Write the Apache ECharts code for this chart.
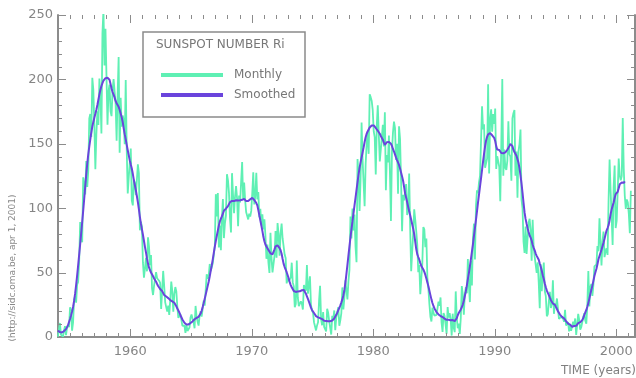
<!DOCTYPE html>
<html>
<head>
<meta charset="utf-8">
<script src="https://cdn.jsdelivr.net/npm/echarts@6/dist/echarts.min.js"></script>
<style>
html,body{margin:0;padding:0;background:#fff;}
#chart{width:636px;height:378px;}
</style>
</head>
<body>
<div id="chart"></div>
<script>
// Monthly sunspot numbers, starting Jan 1954 (one row per year)
const startYear = 1954;
const monthly = [
0.2,0.5,10.9,1.8,0.8,0.2,4.8,8.4,1.5,7.0,9.2,7.6,
23.1,20.8,4.9,11.3,28.9,31.7,26.7,40.7,42.7,58.5,89.2,76.9,
73.6,124.0,118.4,110.7,136.6,116.6,129.1,169.6,173.2,155.3,201.3,192.1,
165.0,130.2,157.4,175.2,164.6,200.7,187.2,158.0,235.8,253.8,210.9,239.4,
202.5,164.9,190.7,196.0,175.3,171.5,191.4,200.2,201.2,181.5,152.3,187.6,
217.4,143.1,185.7,163.3,172.0,168.7,149.6,199.6,145.2,111.4,124.0,125.0,
146.3,106.0,102.2,122.0,119.6,110.2,121.7,134.1,127.2,82.8,89.6,85.6,
57.9,46.1,53.0,61.4,51.0,77.4,70.2,55.8,63.6,37.7,32.6,39.9,
38.7,50.3,45.6,46.4,43.7,42.0,21.8,21.8,51.3,39.5,26.9,23.2,
19.8,24.4,17.1,29.3,43.0,35.9,19.6,33.2,38.8,35.3,23.4,14.9,
15.3,17.7,16.5,8.6,9.5,9.1,3.1,9.3,4.7,6.1,7.4,15.1,
17.5,14.2,11.7,6.8,24.1,15.9,11.9,8.9,16.8,20.1,15.8,17.0,
28.2,24.4,25.3,48.7,45.3,47.7,56.7,51.2,50.2,57.2,57.2,70.4,
110.9,93.6,111.8,69.5,86.5,67.3,91.5,107.2,76.8,88.2,94.3,126.4,
121.8,111.9,92.2,81.2,127.2,110.3,96.1,109.3,117.2,107.7,86.0,109.8,
104.4,120.5,135.8,106.8,120.0,106.0,96.8,98.0,91.3,95.7,93.5,97.9,
111.5,127.8,102.9,109.5,127.5,106.8,112.5,93.0,99.5,86.6,95.2,83.5,
91.3,79.0,60.7,71.8,57.5,49.8,81.0,61.4,50.2,51.7,63.2,82.2,
61.5,88.4,80.1,63.2,80.5,88.0,76.5,76.8,64.0,61.3,41.6,45.3,
43.4,42.9,46.0,57.7,42.4,39.5,23.1,25.6,59.3,30.7,23.9,23.3,
27.6,26.0,21.3,40.3,39.5,36.0,55.8,33.6,40.2,47.1,25.0,20.5,
18.9,11.5,11.5,5.1,9.0,11.4,28.2,39.7,13.9,9.1,19.4,7.8,
8.1,4.3,21.9,18.8,12.4,12.2,1.9,16.4,13.5,20.6,5.2,15.3,
16.4,23.1,8.7,12.9,18.6,38.5,21.4,30.1,44.0,43.8,29.1,43.2,
51.9,93.6,76.5,99.7,82.7,95.1,70.4,58.1,138.2,125.1,97.9,122.7,
166.6,137.5,138.0,101.5,134.4,149.5,159.4,142.2,188.4,186.2,183.3,176.3,
159.6,155.0,126.2,164.1,179.9,157.3,136.3,135.4,155.0,164.7,147.9,174.4,
114.0,141.3,135.5,156.4,127.5,90.0,143.8,158.7,167.3,162.4,137.5,150.1,
111.2,163.6,153.8,122.0,82.2,110.4,106.1,107.6,118.8,94.7,98.1,127.0,
84.3,51.0,66.5,80.7,99.2,91.1,82.2,71.8,50.3,55.8,33.3,33.4,
57.0,85.4,83.5,69.7,76.4,46.1,37.4,25.5,15.7,12.0,22.8,18.7,
16.5,15.9,17.2,16.2,27.5,24.2,30.7,11.1,3.9,18.6,16.2,17.3,
2.5,23.2,15.1,18.5,13.7,1.1,18.1,7.4,3.8,35.4,15.2,6.8,
10.4,2.4,14.7,39.6,33.0,17.4,33.0,38.7,33.9,60.6,39.9,27.1,
59.0,40.0,76.2,88.0,60.1,101.8,113.8,111.6,120.1,125.1,125.1,179.2,
161.3,165.1,131.4,130.6,138.5,196.2,126.9,168.9,176.7,159.4,173.0,165.5,
177.3,130.5,140.3,140.3,132.2,105.4,149.4,200.3,125.2,145.5,131.4,129.7,
136.9,167.5,141.9,140.0,121.3,169.7,173.7,176.3,125.3,144.1,108.2,144.4,
150.0,161.1,106.7,99.8,73.8,65.2,85.7,64.5,63.9,88.7,91.8,82.6,
59.3,91.0,69.8,62.2,61.3,49.8,57.9,42.2,22.4,56.4,35.6,48.9,
57.8,35.5,31.7,16.1,17.8,28.0,35.1,22.5,25.7,44.0,18.0,26.2,
24.2,29.9,31.1,14.0,14.5,15.6,14.5,14.3,11.8,21.1,9.0,10.0,
11.5,4.4,9.2,4.8,5.5,11.8,8.2,14.4,1.6,0.9,17.9,13.3,
5.7,7.6,8.7,15.5,18.5,12.7,10.4,24.4,51.3,23.8,39.0,41.2,
31.9,40.3,54.8,53.4,56.3,70.7,66.6,92.2,92.9,55.5,74.0,81.9,
62.0,66.3,68.8,63.7,106.4,137.7,113.5,93.7,71.5,116.7,133.2,84.6,
90.1,112.9,138.5,125.5,121.6,124.9,170.1,130.5,109.7,99.4,106.8,104.4,
95.6,80.6,113.5
];
// 13-month smoothed sunspot numbers, starting Jan 1954
const smoothed = [
4.9,4.3,3.8,3.4,3.5,4.0,4.6,5.2,6.1,7.4,9.2,11.6,
14.0,16.7,19.8,23.5,28.0,33.6,40.2,47.6,55.6,63.7,72.0,80.6,
89.3,98.1,107.4,117.0,126.2,134.6,141.8,147.8,153.5,158.8,163.4,167.0,
170.3,173.3,176.5,180.1,184.2,188.4,192.0,194.9,197.1,199.0,200.3,201.0,
201.2,201.3,201.2,199.8,196.5,192.9,190.2,188.2,186.0,183.3,181.5,180.4,
178.7,176.4,173.5,170.6,167.0,162.0,157.5,153.5,149.2,145.0,141.0,137.1,
133.9,130.8,126.7,122.0,118.0,114.0,109.5,104.7,99.3,93.3,88.0,83.7,
79.4,74.7,70.0,65.7,61.0,57.0,54.0,51.8,50.1,48.8,47.2,45.5,
44.2,42.9,41.2,39.6,38.4,37.3,36.3,35.6,34.2,32.6,31.6,31.4,
31.0,30.2,29.5,28.7,28.0,27.7,27.4,26.6,25.3,23.8,22.1,20.6,
19.0,17.1,15.3,13.6,12.2,11.1,10.2,9.7,9.6,9.8,10.2,10.8,
11.5,12.1,12.9,13.8,14.4,14.8,15.1,15.7,16.7,18.2,20.4,23.2,
26.3,29.6,32.9,36.3,39.7,43.1,47.2,51.5,55.7,60.3,65.3,70.2,
74.5,78.6,82.7,86.6,89.7,91.8,93.6,95.8,98.0,99.1,99.7,100.5,
101.6,103.1,104.7,105.5,105.6,105.3,105.5,106.0,106.2,106.1,105.9,105.9,
106.1,106.3,106.5,107.2,107.3,106.4,105.5,105.2,105.5,106.0,106.9,107.6,
108.0,107.5,106.4,105.0,104.0,102.2,98.6,94.4,90.4,86.5,82.4,77.8,
74.3,71.8,70.2,69.3,67.6,66.3,65.0,64.1,64.2,65.7,68.1,70.3,
71.3,71.2,70.2,69.0,67.4,64.6,60.6,56.8,54.3,52.4,50.3,47.9,
45.3,42.6,40.3,38.6,37.3,35.7,34.8,35.0,35.4,35.4,35.2,35.5,
35.8,36.3,36.8,36.5,35.3,33.6,31.6,29.6,27.4,25.1,22.8,21.0,
19.6,18.6,17.5,16.2,15.5,15.3,15.1,14.6,14.2,13.9,13.2,12.6,
12.4,12.5,12.4,12.2,12.3,12.2,12.4,12.8,13.4,14.4,15.7,17.2,
18.9,20.8,22.7,24.6,26.8,29.2,32.3,36.5,42.1,48.9,55.9,63.1,
70.3,77.2,83.6,89.7,95.9,102.2,108.1,114.2,120.3,126.1,131.3,135.6,
139.4,143.2,147.2,151.4,155.1,157.8,159.6,161.1,162.6,163.8,164.2,164.5,
164.3,163.5,162.3,161.2,160.1,159.2,157.8,156.1,155.0,153.2,150.9,149.2,
149.6,151.3,152.1,151.5,150.9,150.0,148.4,146.0,144.0,141.8,139.5,137.4,
135.5,133.6,130.8,127.8,124.7,121.3,116.5,111.5,108.2,104.8,101.2,97.8,
94.6,91.1,87.6,84.0,79.8,74.1,68.3,64.3,62.1,60.0,57.4,55.2,
53.7,52.4,50.6,48.2,45.4,42.4,39.4,35.9,32.5,29.2,26.4,24.1,
22.2,20.7,19.4,18.3,17.5,17.0,16.3,15.8,15.5,15.0,14.3,13.6,
13.3,13.4,13.4,13.1,13.0,13.2,13.2,12.9,12.3,12.9,14.6,16.9,
18.6,19.9,21.4,23.1,25.2,28.2,31.8,35.6,40.1,44.9,49.6,54.8,
60.5,66.2,72.0,78.5,84.7,90.9,97.6,104.3,110.6,116.9,123.2,129.8,
136.2,142.4,148.1,152.6,155.4,157.4,158.5,158.3,157.5,156.6,155.6,154.6,
152.2,148.2,145.5,144.9,145.2,144.0,142.8,142.6,142.7,142.9,143.3,144.1,
145.4,146.6,148.2,149.9,150.2,148.2,145.4,143.6,142.1,140.7,138.1,135.3,
131.1,125.4,119.0,112.0,104.2,96.7,91.7,88.0,84.4,81.5,78.8,77.2,
74.9,71.6,69.3,67.3,64.8,63.0,61.8,60.0,57.1,54.6,51.5,48.0,
45.0,41.5,38.6,36.0,34.2,32.5,30.5,28.6,27.3,26.0,25.4,24.9,
23.5,21.7,20.0,18.6,17.4,16.3,15.6,15.0,14.5,13.6,12.4,11.0,
10.4,10.1,9.6,8.6,8.0,8.2,8.5,8.3,8.7,9.8,10.8,11.2,
11.5,12.1,13.1,14.8,17.0,19.1,21.0,23.5,26.3,29.8,33.4,36.6,
39.9,43.6,47.3,50.3,53.0,56.5,60.4,62.9,65.3,67.7,70.4,73.1,
76.3,79.6,82.6,84.6,86.8,90.7,95.4,99.0,101.8,104.4,107.9,110.9,
111.7,112.7,115.5,118.6,119.6,119.9,119.6,119.7,120.8
];
// Axis tick values
const decadeTicks = [1960, 1970, 1980, 1990, 2000];
const yearTicks = [1955,1956,1957,1958,1959,1961,1962,1963,1964,1965,1966,1967,1968,1969,
  1971,1972,1973,1974,1975,1976,1977,1978,1979,1981,1982,1983,1984,1985,1986,1987,1988,1989,
  1991,1992,1993,1994,1995,1996,1997,1998,1999,2001];
const yMajorTicks = [0, 50, 100, 150, 200, 250];
const yMinorTicks = [10,20,30,40,60,70,80,90,110,120,130,140,160,170,180,190,210,220,230,240];
const seriesNames = ['Monthly', 'Smoothed'];
const legendTitle = 'SUNSPOT NUMBER Ri';
const yAxisTitle = '(http://sidc.oma.be, apr 1, 2001)';
const xAxisTitle = 'TIME (years)';

const toPairs = arr => arr.map((v, i) => [startYear + (i + 0.5) / 12, v]);

const AX = '#8c8c8c';
const LBL = '#858585';
const FONT = 'DejaVu Sans';
const xMin = 1954.05, xMax = 2001.55, yMin = 0, yMax = 250;

// tick descriptors: [value, length, orientation(0 = x tick, 1 = y tick)]
const tickData = []
  .concat(decadeTicks.map(v => [v, 8, 0]))
  .concat(yearTicks.map(v => [v, 4, 0]))
  .concat(yMajorTicks.map(v => [v, 8, 1]))
  .concat(yMinorTicks.map(v => [v, 4, 1]));

function renderTick(params, api) {
  const v = api.value(0), len = api.value(1), dir = api.value(2);
  const st = {stroke: AX, lineWidth: 1};
  if (dir === 0) {
    const b = api.coord([v, yMin]), t = api.coord([v, yMax]);
    const x = Math.round(b[0]) + 0.5;
    return {type: 'group', children: [
      {type: 'line', shape: {x1: x, y1: b[1], x2: x, y2: b[1] - len}, style: st},
      {type: 'line', shape: {x1: x, y1: t[1], x2: x, y2: t[1] + len}, style: st}
    ]};
  }
  const l = api.coord([xMin, v]), r = api.coord([xMax, v]);
  const y = Math.round(l[1]) + 0.5;
  return {type: 'group', children: [
    {type: 'line', shape: {x1: l[0], y1: y, x2: l[0] + len, y2: y}, style: st},
    {type: 'line', shape: {x1: r[0], y1: y, x2: r[0] - len, y2: y}, style: st}
  ]};
}

const chart = echarts.init(document.getElementById('chart'));
chart.setOption({
  animation: false,
  backgroundColor: '#fff',
  grid: {left: 58, right: 1, top: 15, bottom: 41},
  xAxis: [
    {type: 'value', position: 'bottom', min: xMin, max: xMax,
     splitLine: {show: false}, axisTick: {show: false},
     axisLine: {show: true, lineStyle: {color: AX, width: 2}},
     axisLabel: {show: true, customValues: decadeTicks, formatter: v => String(v), color: LBL,
       fontFamily: FONT, fontSize: 13, margin: 8}},
    {type: 'value', position: 'top', min: xMin, max: xMax,
     splitLine: {show: false}, axisTick: {show: false}, axisLabel: {show: false},
     axisLine: {show: true, lineStyle: {color: AX, width: 2}}}
  ],
  yAxis: [
    {type: 'value', position: 'left', min: yMin, max: yMax, interval: 50,
     splitLine: {show: false}, axisTick: {show: false},
     axisLine: {show: true, lineStyle: {color: AX, width: 2}},
     axisLabel: {show: true, color: LBL, fontFamily: FONT, fontSize: 13, margin: 5}},
    {type: 'value', position: 'right', min: yMin, max: yMax, interval: 50,
     splitLine: {show: false}, axisTick: {show: false}, axisLabel: {show: false},
     axisLine: {show: true, lineStyle: {color: AX, width: 2}}}
  ],
  legend: {
    data: seriesNames, orient: 'vertical', left: 156, top: 64,
    itemWidth: 62, itemHeight: 4, itemGap: 8, icon: 'rect',
    textStyle: {color: '#777', fontFamily: FONT, fontSize: 12, padding: [0, 0, 0, 6]},
    z: 20
  },
  graphic: [
    {type: 'rect', shape: {x: 143, y: 32, width: 162, height: 85},
     style: {fill: '#fff', stroke: '#8a8a8a', lineWidth: 1.5}, z: 10},
    {type: 'text', x: 156, y: 45, z: 11,
     style: {text: legendTitle, fill: '#777', font: '12px "DejaVu Sans"', textVerticalAlign: 'middle'}},
    {type: 'text', x: 13, y: 268, rotation: Math.PI / 2, z: 11,
     style: {text: yAxisTitle, fill: '#888', font: '9px "DejaVu Sans"', textAlign: 'center', textVerticalAlign: 'middle'}},
    {type: 'text', x: 636, y: 371, z: 11,
     style: {text: xAxisTitle, fill: '#808080', font: '12px "DejaVu Sans"', textAlign: 'right', textVerticalAlign: 'middle'}}
  ],
  series: [
    {name: seriesNames[0], type: 'line', data: toPairs(monthly), showSymbol: false, symbol: 'none',
     color: '#5ff0b4', lineStyle: {color: '#5ff0b4', width: 1.8}, z: 2},
    {name: seriesNames[1], type: 'line', data: toPairs(smoothed), showSymbol: false, symbol: 'none',
     color: '#6a44dc', lineStyle: {color: '#6a44dc', width: 2}, z: 3},
    {name: 'ticks', type: 'custom', data: tickData, renderItem: renderTick,
     silent: true, clip: false, z: 5, xAxisIndex: 0, yAxisIndex: 0}
  ]
});
</script>
</body>
</html>
